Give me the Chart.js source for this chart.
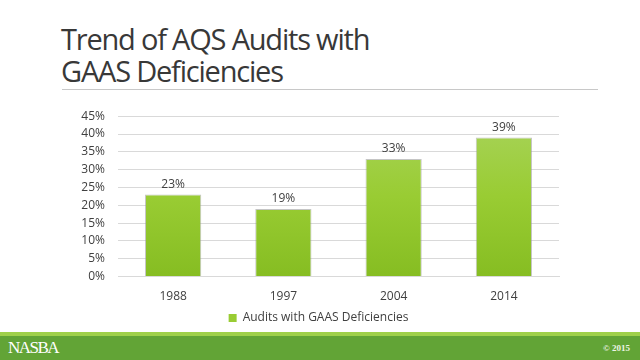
<!DOCTYPE html>
<html><head><meta charset="utf-8">
<script src="https://cdn.jsdelivr.net/npm/chart.js@4/dist/chart.umd.min.js"></script>
<style>
html,body{margin:0;padding:0;background:#fff;width:640px;height:360px;overflow:hidden;position:relative;font-family:"Open Sans",sans-serif}
#title{position:absolute;left:61px;top:23px;font-family:"Open Sans",sans-serif;font-size:29px;line-height:32px;color:#383838;letter-spacing:-1.2px;font-weight:400}
#rule{position:absolute;left:62px;top:89px;width:536px;height:1px;background:#c8c8c8}
#wrap{position:absolute;left:0;top:96px;width:640px;height:238px}
#band1{position:absolute;left:0;top:332px;width:640px;height:4px;background:#9fd04a}
#band2{position:absolute;left:0;top:336px;width:640px;height:24px;background:#62a436}
#nasba{position:absolute;left:8px;top:338px;color:#fff;font-family:"Liberation Serif",serif;font-size:17px;letter-spacing:-1.5px}
#copy{position:absolute;right:10px;top:343px;color:#eef5e6;font-family:"Liberation Serif",serif;font-size:9px;font-weight:bold}
</style></head><body>
<div id="title">Trend of AQS Audits with<br>GAAS Deficiencies</div>
<div id="rule"></div>
<div id="band1"></div><div id="band2"></div>
<div id="wrap"><canvas id="c"></canvas></div>
<div id="nasba">NASBA</div><div id="copy">© 2015</div>
<script>
const categories = ["1988","1997","2004","2014"];
const seriesName = "Audits with GAAS Deficiencies";
const values = [23,19,33,39];
const yTicks = [0,5,10,15,20,25,30,35,40,45];

const font = {family:'"Open Sans", sans-serif', size:12};
const txt = '#404040';

const labelPlugin = {
  id:'labels',
  afterDatasetsDraw(chart){
    const ctx = chart.ctx;
    const meta = chart.getDatasetMeta(0);
    ctx.save();
    ctx.font = '12px "Open Sans", sans-serif';
    ctx.fillStyle = txt;
    ctx.textAlign = 'center';
    ctx.textBaseline = 'bottom';
    meta.data.forEach((el,i)=>{
      ctx.fillText(values[i]+'%', el.x, el.y-4);
    });
    ctx.restore();
  }
};

function grad(context){
  const chart = context.chart;
  const a = chart.chartArea;
  if(!a) return '#9acd32';
  const g = chart.ctx.createLinearGradient(0,a.top,0,a.bottom);
  g.addColorStop(0,'#a8d35a');
  g.addColorStop(0.5,'#99cc33');
  g.addColorStop(1,'#86bd22');
  return g;
}

new Chart(document.getElementById('c'),{
  type:'bar',
  data:{labels:categories,datasets:[{label:seriesName,data:values,backgroundColor:grad,
    borderColor:'rgba(150,150,150,0.55)',borderWidth:1,categoryPercentage:0.51,barPercentage:1}]},
  options:{
    responsive:true,maintainAspectRatio:false,animation:false,
    layout:{padding:{left:78,right:81,top:4,bottom:0}},
    plugins:{
      legend:{position:'bottom',labels:{font:font,color:txt,boxWidth:8,boxHeight:8,padding:3,
        generateLabels(chart){return [{text:seriesName,fillStyle:'#99cc33',strokeStyle:'#99cc33',lineWidth:0,datasetIndex:0,fontColor:txt}];}}},
      tooltip:{enabled:false}
    },
    scales:{
      y:{min:0,max:45,afterBuildTicks(s){s.ticks=yTicks.map(v=>({value:v}));},
        ticks:{callback:v=>v+'%',font:font,color:txt,padding:13,autoSkip:false},
        grid:{color:'#d9d9d9',drawTicks:false},border:{display:false},
        afterFit(s){s.width=40;}},
      x:{ticks:{font:font,color:txt,padding:5},grid:{display:false},border:{color:'#d9d9d9'}}
    }
  },
  plugins:[labelPlugin]
});
</script>
</body></html>
